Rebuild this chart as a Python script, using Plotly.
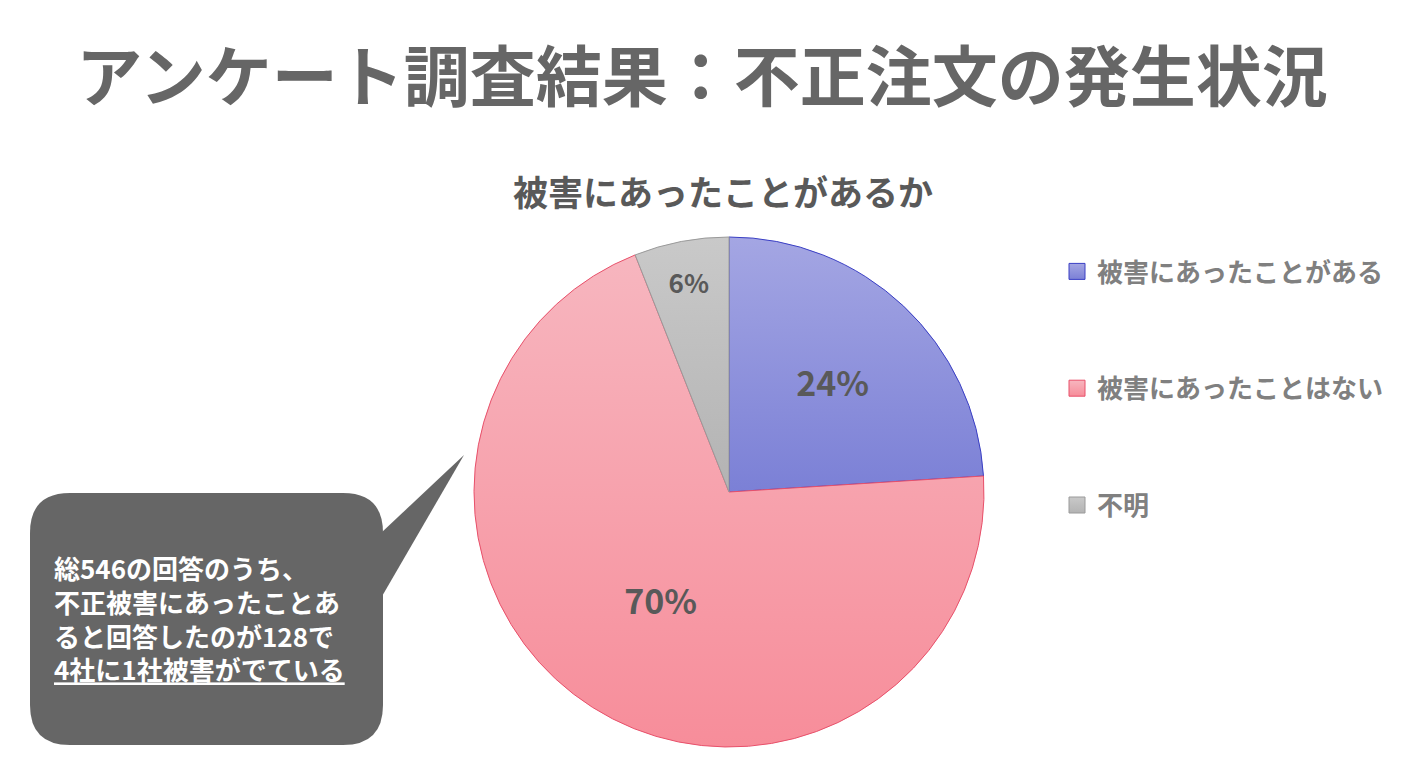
import json
import plotly.graph_objects as go

# ---- data ----
categories = ["被害にあったことがある", "被害にあったことはない", "不明"]
shares = [24, 70, 6]
fill_colors = ["#9197dc", "#f7a3ad", "#bfbfbf"]
grad_top = ["#a4a6e3", "#f7b6bf", "#c9c9c9"]
grad_bottom = ["#7b80d6", "#f78d9a", "#b3b3b3"]
edge_colors = ["#3a3fc4", "#e8506a", "#9a9a9a"]
title_text = "アンケート調査結果：不正注文の発生状況"
subtitle_text = "被害にあったことがあるか"
callout_lines = ["総546の回答のうち、", "不正被害にあったことあ", "ると回答したのが128で", "<u>4社に1社被害がでている</u>"]

W, H = 1404, 771
FONT = "Noto Sans CJK JP"

def px(x):
    return x / W

def py(y):
    return 1 - y / H

fig = go.Figure()

cx, cy, R = 729, 492, 255
fig.add_trace(go.Pie(
    labels=categories,
    values=shares,
    sort=False,
    direction="clockwise",
    rotation=0,
    domain=dict(x=[px(cx - R), px(cx + R)], y=[py(cy + R), py(cy - R)]),
    marker=dict(colors=fill_colors, line=dict(color=edge_colors, width=1)),
    texttemplate="%{value}%",
    textposition="inside",
    insidetextorientation="horizontal",
    textfont=dict(family=FONT, size=[34, 34, 26], color="#595959", weight="bold"),
    showlegend=False,
    hoverinfo="label+percent",
))

# legend entries (dummy traces to get the wide vertical spacing)
for i, (name, fc, ec) in enumerate(zip(categories, fill_colors, edge_colors)):
    fig.add_trace(go.Scatter(
        x=[None], y=[None], mode="markers", name=name,
        legendgroup=f"g{i}",
        marker=dict(symbol="square", size=16, color=fc, line=dict(color=ec, width=1)),
    ))

# callout bubble
x0, x1, y0, y1, r = 30, 383, 493, 745, 40
def P(x, y):
    return f"{px(x):.5f},{py(y):.5f}"
rect_path = (
    f"M {P(x0 + r, y0)} L {P(x1 - r, y0)} Q {P(x1, y0)} {P(x1, y0 + r)} "
    f"L {P(x1, y1 - r)} Q {P(x1, y1)} {P(x1 - r, y1)} "
    f"L {P(x0 + r, y1)} Q {P(x0, y1)} {P(x0, y1 - r)} "
    f"L {P(x0, y0 + r)} Q {P(x0, y0)} {P(x0 + r, y0)} Z"
)
tail_path = f"M {P(x1 - 2, 533)} L {P(464, 455)} L {P(x1 - 2, 598)} Z"
shapes = [
    dict(type="path", xref="paper", yref="paper", path=rect_path,
         fillcolor="#666666", line=dict(width=0), layer="below"),
    dict(type="path", xref="paper", yref="paper", path=tail_path,
         fillcolor="#666666", line=dict(width=0), layer="below"),
]

annotations = [
    dict(text=subtitle_text, x=px(723), y=py(190), xref="paper", yref="paper",
         showarrow=False, xanchor="center", yanchor="middle",
         font=dict(family=FONT, size=35, color="#595959", weight="bold")),
    dict(text="<br>".join(callout_lines), x=px(52), y=py(618), xref="paper", yref="paper",
         showarrow=False, xanchor="left", yanchor="middle", align="left",
         font=dict(family=FONT, size=26, color="#ffffff", weight="bold")),
]

fig.update_layout(
    width=W, height=H,
    margin=dict(l=0, r=0, t=0, b=0),
    paper_bgcolor="white", plot_bgcolor="white",
    title=dict(text=title_text, x=px(702), y=py(78), xref="paper", yref="container",
               xanchor="center", yanchor="middle",
               font=dict(family=FONT, size=66, color="#666666", weight="bold")),
    xaxis=dict(visible=False, domain=[0.999, 1.0]),
    yaxis=dict(visible=False, domain=[0.999, 1.0]),
    legend=dict(x=px(1057), y=py(248), xanchor="left", yanchor="top",
                font=dict(family=FONT, size=26, color="#808080", weight="bold"),
                tracegroupgap=80, bgcolor="rgba(0,0,0,0)"),
    shapes=shapes,
    annotations=annotations,
)

post_js = """
(function(){
  document.body.style.margin = '0';
  document.body.style.overflow = 'hidden';
  var gd = document.getElementById('{plot_id}');
  var tops = TOPS, bots = BOTS;
  var ns = 'http://www.w3.org/2000/svg';
  function mk(defs, id, a, b){
    var g = document.createElementNS(ns, 'linearGradient');
    g.setAttribute('id', id);
    g.setAttribute('x1', '0'); g.setAttribute('y1', '0');
    g.setAttribute('x2', '0'); g.setAttribute('y2', '1');
    var s1 = document.createElementNS(ns, 'stop');
    s1.setAttribute('offset', '0'); s1.setAttribute('stop-color', a);
    var s2 = document.createElementNS(ns, 'stop');
    s2.setAttribute('offset', '1'); s2.setAttribute('stop-color', b);
    g.appendChild(s1); g.appendChild(s2);
    defs.appendChild(g);
  }
  function apply(){
    var svg = gd.querySelector('svg.main-svg');
    if(!svg) return;
    var defs = svg.querySelector('defs');
    if(!defs){ defs = document.createElementNS(ns, 'defs'); svg.insertBefore(defs, svg.firstChild); }
    gd.querySelectorAll('g.slice path.surface').forEach(function(p, i){
      if(i >= tops.length) return;
      mk(defs, 'piegrad' + i, tops[i], bots[i]);
      p.style.fill = 'url(#piegrad' + i + ')';
    });
    gd.querySelectorAll('g.legendpoints path.scatterpts').forEach(function(p, i){
      if(i >= tops.length) return;
      mk(defs, 'leggrad' + i, tops[i], bots[i]);
      p.style.fill = 'url(#leggrad' + i + ')';
    });
  }
  apply();
})();
""".replace("TOPS", json.dumps(grad_top)).replace("BOTS", json.dumps(grad_bottom))

fig.write_html("out.html", post_script=post_js, config={"displayModeBar": False})
